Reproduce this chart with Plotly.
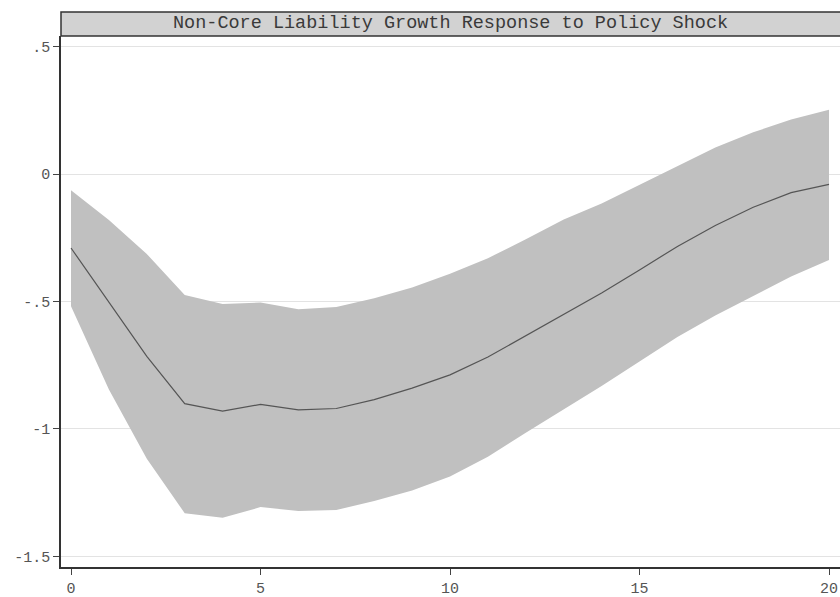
import plotly.graph_objects as go

horizon = list(range(21))
irf = [-0.290, -0.505, -0.715, -0.901, -0.930, -0.904, -0.925, -0.920, -0.885, -0.840,
       -0.788, -0.718, -0.634, -0.551, -0.467, -0.376, -0.284, -0.202, -0.130, -0.073, -0.040]
upper = [-0.063, -0.180, -0.314, -0.474, -0.510, -0.504, -0.530, -0.522, -0.487, -0.445,
         -0.391, -0.330, -0.256, -0.178, -0.115, -0.043, 0.031, 0.104, 0.164, 0.214, 0.253]
lower = [-0.519, -0.845, -1.117, -1.331, -1.349, -1.307, -1.322, -1.318, -1.283, -1.242,
         -1.187, -1.109, -1.015, -0.924, -0.832, -0.735, -0.639, -0.555, -0.477, -0.402, -0.337]

title_text = "Non-Core Liability Growth Response to Policy Shock"
x_ticks = [0, 5, 10, 15, 20]
y_ticks = [0.5, 0, -0.5, -1, -1.5]
y_labels = [".5", "0", "-.5", "-1", "-1.5"]

FONT = "Liberation Mono, Courier New, monospace"

fig = go.Figure()
fig.add_trace(go.Scatter(x=horizon, y=lower, mode="lines", line=dict(width=0, color="#c0c0c0"),
                         showlegend=False, hoverinfo="skip"))
fig.add_trace(go.Scatter(x=horizon, y=upper, mode="lines", line=dict(width=0, color="#c0c0c0"),
                         fill="tonexty", fillcolor="#c0c0c0", showlegend=False, hoverinfo="skip"))
fig.add_trace(go.Scatter(x=horizon, y=irf, mode="lines", line=dict(width=1.2, color="#555555"),
                         showlegend=False))

L, R, T, B = 61, 0, 36, 30
H, W = 597, 840
plot_h = H - T - B

fig.update_layout(
    width=W, height=H,
    margin=dict(l=L, r=R, t=T, b=B, pad=0),
    paper_bgcolor="white", plot_bgcolor="white",
    font=dict(family=FONT, size=15, color="#555555"),
    xaxis=dict(range=[-0.264, 20.29], tickvals=x_ticks, ticks="outside", ticklen=6,
               tickcolor="#444444", tickwidth=1, showgrid=False, zeroline=False,
               showline=True, linecolor="#333333", linewidth=1.5,
               tickfont=dict(family=FONT, size=15, color="#555555")),
    yaxis=dict(range=[-1.542, 0.542], tickvals=y_ticks, ticktext=y_labels, ticks="outside",
               ticklen=6, tickcolor="#444444", tickwidth=1, showgrid=True,
               gridcolor="#e3e3e3", gridwidth=1, zeroline=False,
               showline=True, linecolor="#333333", linewidth=1.5,
               tickfont=dict(family=FONT, size=15, color="#555555")),
    shapes=[dict(type="rect", xref="paper", yref="paper", x0=0, x1=1.01,
                 y0=1, y1=1 + 24 / plot_h, fillcolor="#d2d2d2",
                 line=dict(color="#333333", width=1.5), layer="above")],
    annotations=[dict(text=title_text, xref="paper", yref="paper", x=0.5, y=1 + 12 / plot_h,
                      xanchor="center", yanchor="middle", showarrow=False,
                      font=dict(family=FONT, size=18.5, color="#3a3a3a"))],
)

fig.write_html("out.html", config={"displayModeBar": False},
               post_script="document.body.style.margin='0';document.body.style.overflow='hidden';")
